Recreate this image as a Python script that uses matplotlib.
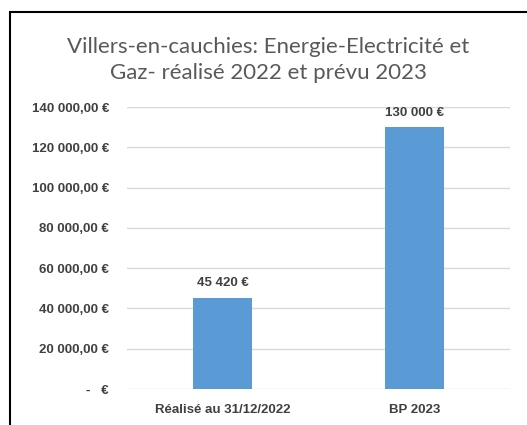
import matplotlib.pyplot as plt
from matplotlib.ticker import FuncFormatter
from matplotlib.patches import Rectangle

categories = ["Réalisé au 31/12/2022", "BP 2023"]
values = [45420, 130000]
value_labels = ["45 420 €", "130 000 €"]
yticks = [0, 20000, 40000, 60000, 80000, 100000, 120000, 140000]

title = "Villers-en-cauchies: Energie-Electricité et\nGaz- réalisé 2022 et prévu 2023"

plt.rcParams['font.family'] = ['Liberation Sans', 'DejaVu Sans']


def euro_fmt(v, pos):
    if v == 0:
        return "-   €"
    return f"{int(v):,}".replace(",", " ") + ",00 €"


fig = plt.figure(figsize=(5.27, 4.25), dpi=100)
ax = fig.add_axes([127 / 527, 1 - 389 / 425, 383 / 527, 282 / 425])

x = range(len(categories))
ax.bar(x, values, width=0.31, color="#5B9BD5", zorder=3)
for xi, v, lab in zip(x, values, value_labels):
    ax.annotate(lab, (xi, v), xytext=(0, 6), textcoords="offset points",
                ha="center", va="bottom", fontsize=9.5, fontweight="bold",
                color="#404040")

ax.set_xlim(-0.5, 1.5)
ax.set_ylim(0, 140000)
ax.set_yticks(yticks)
ax.yaxis.set_major_formatter(FuncFormatter(euro_fmt))
ax.set_xticks(list(x))
ax.set_xticklabels(categories)
ax.grid(axis="y", color="#D9D9D9", linewidth=1, zorder=0)
for s in ax.spines.values():
    s.set_visible(False)
ax.tick_params(length=0, labelsize=9.5, colors="#404040")
ax.tick_params(axis="y", pad=13)
ax.tick_params(axis="x", pad=11)
for lab in ax.get_xticklabels() + ax.get_yticklabels():
    lab.set_fontweight("bold")

fig.text(268 / 527, 1 - 60 / 425, title, ha="center", va="center",
         fontsize=16, color="#595959", linespacing=1.35, family="Lato")

# chart frame (cropped on the right and bottom)
fig.patches.append(Rectangle((10 / 527, -0.1), 1.2, 1 - 12 / 425 + 0.1,
                             transform=fig.transFigure, fill=False,
                             edgecolor="black", linewidth=1.5))

fig.savefig("out.png", dpi=100)
